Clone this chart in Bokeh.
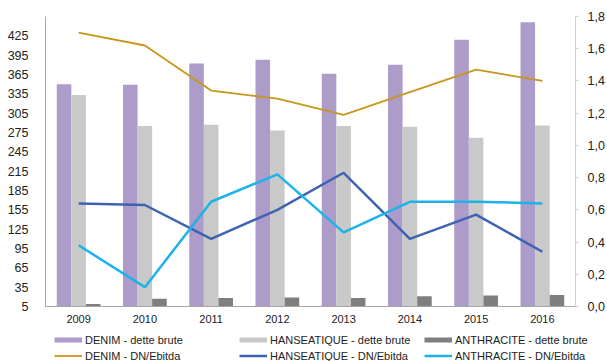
import math
from bokeh.plotting import figure
from bokeh.layouts import column
from bokeh.models import (ColumnDataSource, FactorRange, Range1d, LinearAxis, FixedTicker,
                          CustomJSTickFormatter, Legend, LegendItem)
from bokeh.transform import dodge
from bokeh.embed import file_html
from bokeh.resources import INLINE

years = ["2009", "2010", "2011", "2012", "2013", "2014", "2015", "2016"]
denim_dette = [350, 349, 382, 388, 366, 380, 419, 446]
hanse_dette = [333, 285, 287, 278, 285, 284, 267, 286]
anthra_dette = [9, 17, 18, 19, 18, 21, 22, 23]
denim_ratio = [1.70, 1.62, 1.34, 1.29, 1.19, 1.33, 1.47, 1.40]
hanse_ratio = [0.64, 0.63, 0.42, 0.60, 0.83, 0.42, 0.57, 0.34]
anthra_ratio = [0.38, 0.12, 0.65, 0.82, 0.46, 0.65, 0.65, 0.64]
left_ticks = list(range(5, 426, 30))
right_ticks = [0.0, 0.2, 0.4, 0.6, 0.8, 1.0, 1.2, 1.4, 1.6, 1.8]

labels = ["DENIM - dette brute", "HANSEATIQUE - dette brute", "ANTHRACITE - dette brute",
          "DENIM - DN/Ebitda", "HANSEATIQUE - DN/Ebitda", "ANTHRACITE - DN/Ebitda"]

C_DENIM_BAR = "#AD9BCA"
C_HANSE_BAR = "#C9C9C9"
C_ANTHRA_BAR = "#7F7F7F"
C_DENIM_LINE = "#C8961A"
C_HANSE_LINE = "#3F63B3"
C_ANTHRA_LINE = "#1BB3EA"
FONT = "Liberation Sans"
TXT = "#222222"

src = ColumnDataSource(dict(year=years, denim=denim_dette, hanse=hanse_dette, anthra=anthra_dette,
                            denim_r=denim_ratio, hanse_r=hanse_ratio, anthra_r=anthra_ratio))

p = figure(width=607, height=330, x_range=FactorRange(*years), y_range=Range1d(5, 455),
           output_backend="svg", toolbar_location=None,
           min_border_left=45, min_border_right=32, min_border_top=16, min_border_bottom=24)
p.outline_line_color = None
p.xgrid.grid_line_color = None
p.ygrid.grid_line_color = None
p.background_fill_color = "white"
p.border_fill_color = "white"
p.frame_align = False

p.extra_y_ranges = {"r": Range1d(0, 1.8)}

bw = 0.22
p.vbar(x=dodge("year", -bw, range=p.x_range), top="denim", bottom=0, width=bw, source=src,
       fill_color=C_DENIM_BAR, line_color=None)
p.vbar(x=dodge("year", 0, range=p.x_range), top="hanse", bottom=0, width=bw, source=src,
       fill_color=C_HANSE_BAR, line_color=None)
p.vbar(x=dodge("year", bw, range=p.x_range), top="anthra", bottom=0, width=bw, source=src,
       fill_color=C_ANTHRA_BAR, line_color=None)

p.line("year", "denim_r", source=src, y_range_name="r", line_color=C_DENIM_LINE, line_width=1.8)
p.line("year", "hanse_r", source=src, y_range_name="r", line_color=C_HANSE_LINE, line_width=2.5)
p.line("year", "anthra_r", source=src, y_range_name="r", line_color=C_ANTHRA_LINE, line_width=2.5)

# axes
xa = p.xaxis[0]
xa.axis_line_color = "#A6A6A6"
xa.major_tick_line_color = None
xa.minor_tick_line_color = None
xa.major_label_standoff = 2
xa.major_label_text_font = FONT
xa.major_label_text_font_size = "11px"
xa.major_label_text_color = TXT

ya = p.yaxis[0]
ya.ticker = FixedTicker(ticks=left_ticks)
ya.axis_line_color = "#A6A6A6"
ya.major_tick_line_color = None
ya.minor_tick_line_color = None
ya.major_label_standoff = 11
ya.major_label_text_font = FONT
ya.major_label_text_font_size = "12.5px"
ya.major_label_text_color = TXT

ra = LinearAxis(y_range_name="r", ticker=FixedTicker(ticks=right_ticks),
                formatter=CustomJSTickFormatter(code="return tick.toFixed(1).replace('.', ',');"))
ra.axis_line_color = "#D0D0D0"
ra.major_tick_line_color = "#D0D0D0"
ra.major_tick_in = 0
ra.major_tick_out = 3
ra.minor_tick_line_color = None
ra.major_label_standoff = 9
ra.major_label_text_font = FONT
ra.major_label_text_font_size = "12.5px"
ra.major_label_text_color = TXT
p.add_layout(ra, "right")

# legend strip (separate figure so the legend is not clipped by the main frame)
q = figure(width=607, height=31, x_range=Range1d(0, 1), y_range=Range1d(0, 1),
           output_backend="svg", toolbar_location=None,
           x_axis_location=None, y_axis_location=None,
           min_border_left=0, min_border_right=0, min_border_top=0, min_border_bottom=0)
q.outline_line_color = None
q.xgrid.grid_line_color = None
q.ygrid.grid_line_color = None
q.border_fill_color = "white"
q.frame_align = False

nan = float("nan")
def proxy(color, width):
    return q.line(x=[0], y=[nan], line_color=color, line_width=width)

r_bars = [proxy(C_DENIM_BAR, 5), proxy(C_HANSE_BAR, 5), proxy(C_ANTHRA_BAR, 5)]
r_lines = [proxy(C_DENIM_LINE, 1.8), proxy(C_HANSE_LINE, 2.5), proxy(C_ANTHRA_LINE, 2.5)]

for i, x in enumerate([54, 239, 424]):
    lg = Legend(items=[LegendItem(label=labels[i], renderers=[r_bars[i]]),
                       LegendItem(label=labels[i + 3], renderers=[r_lines[i]])],
                location=(x, -2), orientation="vertical",
                glyph_width=28, glyph_height=15, label_height=15, label_standoff=3,
                spacing=1, padding=0, margin=0,
                border_line_color=None, background_fill_alpha=0,
                label_text_font=FONT, label_text_font_size="11px", label_text_color=TXT)
    q.add_layout(lg, "center")

layout = column(p, q, spacing=0)
open("out.html", "w").write(file_html(layout, INLINE))
